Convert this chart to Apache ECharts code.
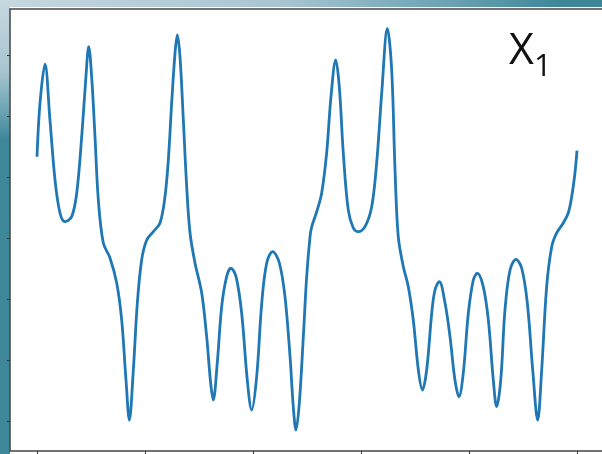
<!DOCTYPE html>
<html>
<head>
<meta charset="utf-8">
<script src="https://cdn.jsdelivr.net/npm/echarts@6/dist/echarts.min.js"></script>
<style>
html,body{margin:0;padding:0;width:602px;height:454px;overflow:hidden;
background: radial-gradient(ellipse 560px 140px at 0 0, #c6d8e0 0%, #a9c5d1 50%, #6aa3b3 80%, #3d8799 100%), #2f7489;}
#c{width:602px;height:454px;}
</style>
</head>
<body>
<div id="c"></div>
<script>
// time axis values (t) and signal values (x1)
const tValues = [0,0.28,0.74,1.20,1.67,2.13,2.59,3.21,3.68,4.14,4.51,4.79,5.06,5.37,5.68,6.14,6.76,7.38,7.84,8.24,8.55,8.92,9.29,9.69,10.16,10.77,11.39,11.85,12.16,12.47,12.78,12.99,13.24,13.55,13.86,14.17,14.63,15.25,15.71,16.08,16.32,16.69,17.10,17.56,17.96,18.43,18.95,19.47,19.88,20.34,20.81,21.27,21.82,22.44,22.96,23.43,23.73,23.98,24.29,24.66,24.97,25.28,25.44,25.90,26.36,26.82,27.22,27.66,27.99,28.36,28.82,29.29,29.75,30.37,30.99,31.45,31.92,32.44,32.84,33.15,33.45,33.92,34.38,34.84,35.31,35.68,36.08,36.55,36.85,37.25,37.78,38.24,38.70,39.07,39.47,39.94,40.40,40.77,41.32,41.79,42.25,42.56,42.94,43.33,43.80,44.35,44.88,45.40,45.90,46.36,46.73,47.19,47.66,48.12,48.73,49.19,49.51,49.81,50.0];
const x1Values = [6.66,11.07,14.24,9.67,4.75,2.05,1.34,1.75,3.69,8.30,12.95,15.68,13.22,8.30,3.11,-0.41,-1.64,-3.69,-6.72,-11.64,-14.92,-10.82,-5.33,-1.80,-0.16,0.52,1.23,3.39,6.39,11.07,15.16,16.64,14.86,9.67,4.20,0.41,-2.05,-4.51,-8.09,-11.89,-13.28,-10.25,-5.63,-3.17,-2.48,-3.17,-6.15,-11.64,-14.10,-11.37,-5.33,-2.05,-1.12,-2.05,-4.81,-9.73,-13.83,-15.74,-13.52,-8.09,-3.17,0.11,0.93,2.16,3.69,6.97,11.58,14.59,12.40,6.97,2.30,0.82,0.52,0.93,2.57,6.15,11.89,17.19,13.77,5.57,0.11,-2.35,-3.99,-6.72,-10.82,-12.46,-10.82,-6.15,-4.26,-3.58,-5.33,-8.09,-11.64,-13.01,-11.07,-6.15,-3.44,-2.89,-3.99,-6.72,-11.64,-13.83,-11.64,-5.90,-2.62,-1.75,-2.48,-5.33,-10.82,-14.92,-10.82,-3.99,-0.71,0.41,1.23,2.05,3.39,5.33,7.16];
const xTicks = [0,10,20,30,40,50];
const yTicks = [-15,-10,-5,0,5,10,15];
const labelMain = 'X';
const labelSub = '1';

const data = tValues.map((t,i)=>[t,x1Values[i]]);
const chart = echarts.init(document.getElementById('c'), null, {renderer:'canvas'});
chart.setOption({
  backgroundColor: 'transparent',
  animation: false,
  graphic: [
    {type:'rect', z:-10, shape:{x:10,y:7,width:600,height:460}, style:{fill:'#ffffff'}},
    {type:'text', z:100, style:{x:509, y:52, text:labelMain, font:'43px "Open Sans", sans-serif', fill:'#111', verticalAlign:'middle', align:'left'}},
    {type:'text', z:100, style:{x:534, y:67, text:labelSub, font:'31px "Open Sans", sans-serif', fill:'#111', verticalAlign:'middle', align:'left'}}
  ],
  grid: {left:10, top:9, right:-2, bottom:3, outerBoundsMode:'none', containLabel:false, show:true, backgroundColor:'#ffffff', borderColor:'#444', borderWidth:1.5},
  xAxis: {type:'value', min:-2.5, max:52.5, position:'bottom', splitLine:{show:false}, axisLine:{show:false, onZero:false},
    axisLabel:{show:false}, axisTick:{show:true, inside:false, length:4, customValues:xTicks, lineStyle:{color:'#333', width:1}}},
  yAxis: {type:'value', min:-17.46, max:18.77, position:'left', splitLine:{show:false}, axisLine:{show:false, onZero:false},
    axisLabel:{show:false}, axisTick:{show:true, inside:false, length:3, customValues:yTicks, lineStyle:{color:'#333', width:1}}},
  series: [{type:'line', data:data, showSymbol:false, smooth:0.35, lineStyle:{color:'#1f77b4', width:2.8}}]
});
</script>
</body>
</html>
